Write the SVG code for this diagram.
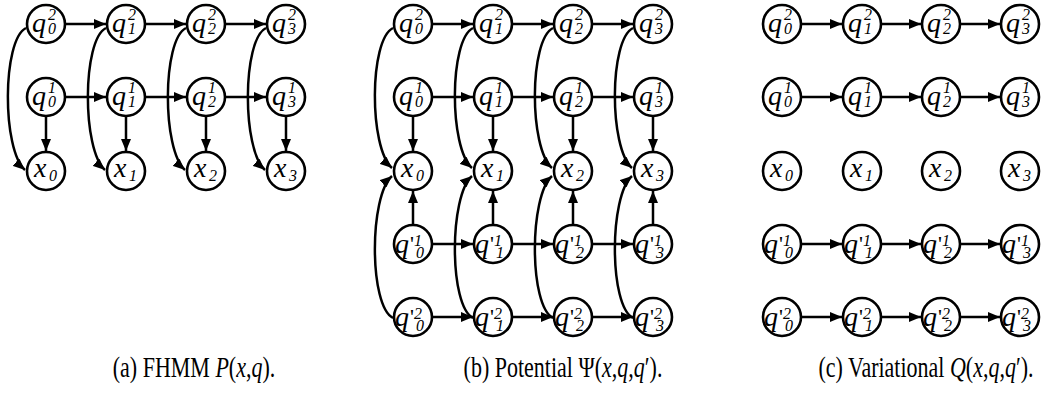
<svg xmlns="http://www.w3.org/2000/svg" width="1057" height="394" viewBox="0 0 1057 394">
<defs>
<style>
.n{fill:#fff;stroke:#000;stroke-width:2.6}
.e{fill:none;stroke:#000;stroke-width:2.5;marker-end:url(#ah)}
.m{font-family:"Liberation Serif",serif;font-style:italic;font-size:28px;fill:#000}
.s{font-size:16px}
.p{font-style:normal;font-size:22px}
.cap{font-family:"Liberation Serif",serif;font-size:22px;fill:#000}
.i{font-style:italic}
</style>
<marker id="ah" viewBox="0 0 12 10" refX="12" refY="5" markerWidth="12" markerHeight="10" markerUnits="userSpaceOnUse" orient="auto"><path d="M0,0L12,5L0,10z" fill="#000"/></marker>
</defs>

<g id="connectors">
<path class="e" d="M66,24H106"/><path class="e" d="M146,24H186"/><path class="e" d="M226,24H266"/>
<path class="e" d="M66,97H106"/><path class="e" d="M146,97H186"/><path class="e" d="M226,97H266"/>
<path class="e" d="M46,117V151"/><path class="e" d="M126,117V151"/><path class="e" d="M206,117V151"/><path class="e" d="M286,117V151"/>
<path class="e" d="M26,28C2,40 2,150 25,170"/>
<path class="e" d="M106,28C82,40 82,150 105,170"/>
<path class="e" d="M186,28C162,40 162,150 185,170"/>
<path class="e" d="M266,28C242,40 242,150 265,170"/>

<path class="e" d="M433,24H473"/><path class="e" d="M513,24H553"/><path class="e" d="M593,24H633"/>
<path class="e" d="M433,97H473"/><path class="e" d="M513,97H553"/><path class="e" d="M593,97H633"/>
<path class="e" d="M433,244H473"/><path class="e" d="M513,244H553"/><path class="e" d="M593,244H633"/>
<path class="e" d="M433,317H473"/><path class="e" d="M513,317H553"/><path class="e" d="M593,317H633"/>
<path class="e" d="M413,117V151"/><path class="e" d="M493,117V151"/><path class="e" d="M573,117V151"/><path class="e" d="M653,117V151"/>
<path class="e" d="M413,224V191"/><path class="e" d="M493,224V191"/><path class="e" d="M573,224V191"/><path class="e" d="M653,224V191"/>
<path class="e" d="M393,28C369,40 369,148 392,168"/>
<path class="e" d="M473,28C449,40 449,148 472,168"/>
<path class="e" d="M553,28C529,40 529,148 552,168"/>
<path class="e" d="M633,28C609,40 609,148 632,168"/>
<path class="e" d="M393,318C369,306 369,196 392,176"/>
<path class="e" d="M473,318C449,306 449,196 472,176"/>
<path class="e" d="M553,318C529,306 529,196 552,176"/>
<path class="e" d="M633,318C609,306 609,196 632,176"/>

<path class="e" d="M802,24H842"/><path class="e" d="M882,24H921"/><path class="e" d="M961,24H1000"/>
<path class="e" d="M802,97H842"/><path class="e" d="M882,97H921"/><path class="e" d="M961,97H1000"/>
<path class="e" d="M802,244H842"/><path class="e" d="M882,244H921"/><path class="e" d="M961,244H1000"/>
<path class="e" d="M802,317H842"/><path class="e" d="M882,317H921"/><path class="e" d="M961,317H1000"/>
</g>

<g id="a_q2_0"><circle class="n" cx="46" cy="24" r="19"/><text class="m" x="32" y="32">q<tspan class="s" x="48" y="20">2</tspan><tspan class="s" x="48" y="34">0</tspan></text></g>
<g id="a_q2_1"><circle class="n" cx="126" cy="24" r="19"/><text class="m" x="112" y="32">q<tspan class="s" x="128" y="20">2</tspan><tspan class="s" x="128" y="34">1</tspan></text></g>
<g id="a_q2_2"><circle class="n" cx="206" cy="24" r="19"/><text class="m" x="192" y="32">q<tspan class="s" x="208" y="20">2</tspan><tspan class="s" x="208" y="34">2</tspan></text></g>
<g id="a_q2_3"><circle class="n" cx="286" cy="24" r="19"/><text class="m" x="272" y="32">q<tspan class="s" x="288" y="20">2</tspan><tspan class="s" x="288" y="34">3</tspan></text></g>
<g id="a_q1_0"><circle class="n" cx="46" cy="97" r="19"/><text class="m" x="32" y="105">q<tspan class="s" x="48" y="93">1</tspan><tspan class="s" x="48" y="107">0</tspan></text></g>
<g id="a_q1_1"><circle class="n" cx="126" cy="97" r="19"/><text class="m" x="112" y="105">q<tspan class="s" x="128" y="93">1</tspan><tspan class="s" x="128" y="107">1</tspan></text></g>
<g id="a_q1_2"><circle class="n" cx="206" cy="97" r="19"/><text class="m" x="192" y="105">q<tspan class="s" x="208" y="93">1</tspan><tspan class="s" x="208" y="107">2</tspan></text></g>
<g id="a_q1_3"><circle class="n" cx="286" cy="97" r="19"/><text class="m" x="272" y="105">q<tspan class="s" x="288" y="93">1</tspan><tspan class="s" x="288" y="107">3</tspan></text></g>
<g id="a_x0"><circle class="n" cx="46" cy="171" r="19"/><text class="m" x="34" y="177">x<tspan class="s" x="49" y="181">0</tspan></text></g>
<g id="a_x1"><circle class="n" cx="126" cy="171" r="19"/><text class="m" x="114" y="177">x<tspan class="s" x="129" y="181">1</tspan></text></g>
<g id="a_x2"><circle class="n" cx="206" cy="171" r="19"/><text class="m" x="194" y="177">x<tspan class="s" x="209" y="181">2</tspan></text></g>
<g id="a_x3"><circle class="n" cx="286" cy="171" r="19"/><text class="m" x="274" y="177">x<tspan class="s" x="289" y="181">3</tspan></text></g>

<g id="b_q2_0"><circle class="n" cx="413" cy="24" r="19"/><text class="m" x="399" y="32">q<tspan class="s" x="415" y="20">2</tspan><tspan class="s" x="415" y="34">0</tspan></text></g>
<g id="b_q2_1"><circle class="n" cx="493" cy="24" r="19"/><text class="m" x="479" y="32">q<tspan class="s" x="495" y="20">2</tspan><tspan class="s" x="495" y="34">1</tspan></text></g>
<g id="b_q2_2"><circle class="n" cx="573" cy="24" r="19"/><text class="m" x="559" y="32">q<tspan class="s" x="575" y="20">2</tspan><tspan class="s" x="575" y="34">2</tspan></text></g>
<g id="b_q2_3"><circle class="n" cx="653" cy="24" r="19"/><text class="m" x="639" y="32">q<tspan class="s" x="655" y="20">2</tspan><tspan class="s" x="655" y="34">3</tspan></text></g>
<g id="b_q1_0"><circle class="n" cx="413" cy="97" r="19"/><text class="m" x="399" y="105">q<tspan class="s" x="415" y="93">1</tspan><tspan class="s" x="415" y="107">0</tspan></text></g>
<g id="b_q1_1"><circle class="n" cx="493" cy="97" r="19"/><text class="m" x="479" y="105">q<tspan class="s" x="495" y="93">1</tspan><tspan class="s" x="495" y="107">1</tspan></text></g>
<g id="b_q1_2"><circle class="n" cx="573" cy="97" r="19"/><text class="m" x="559" y="105">q<tspan class="s" x="575" y="93">1</tspan><tspan class="s" x="575" y="107">2</tspan></text></g>
<g id="b_q1_3"><circle class="n" cx="653" cy="97" r="19"/><text class="m" x="639" y="105">q<tspan class="s" x="655" y="93">1</tspan><tspan class="s" x="655" y="107">3</tspan></text></g>
<g id="b_x0"><circle class="n" cx="413" cy="171" r="19"/><text class="m" x="401" y="177">x<tspan class="s" x="416" y="181">0</tspan></text></g>
<g id="b_x1"><circle class="n" cx="493" cy="171" r="19"/><text class="m" x="481" y="177">x<tspan class="s" x="496" y="181">1</tspan></text></g>
<g id="b_x2"><circle class="n" cx="573" cy="171" r="19"/><text class="m" x="561" y="177">x<tspan class="s" x="576" y="181">2</tspan></text></g>
<g id="b_x3"><circle class="n" cx="653" cy="171" r="19"/><text class="m" x="641" y="177">x<tspan class="s" x="656" y="181">3</tspan></text></g>
<g id="b_qp1_0"><circle class="n" cx="413" cy="244" r="19"/><text class="m" x="395" y="253">q<tspan class="p" x="410" y="251">'</tspan><tspan class="s" x="414" y="246">1</tspan><tspan class="s" x="416" y="258">0</tspan></text></g>
<g id="b_qp1_1"><circle class="n" cx="493" cy="244" r="19"/><text class="m" x="475" y="253">q<tspan class="p" x="490" y="251">'</tspan><tspan class="s" x="494" y="246">1</tspan><tspan class="s" x="496" y="258">1</tspan></text></g>
<g id="b_qp1_2"><circle class="n" cx="573" cy="244" r="19"/><text class="m" x="555" y="253">q<tspan class="p" x="570" y="251">'</tspan><tspan class="s" x="574" y="246">1</tspan><tspan class="s" x="576" y="258">2</tspan></text></g>
<g id="b_qp1_3"><circle class="n" cx="653" cy="244" r="19"/><text class="m" x="635" y="253">q<tspan class="p" x="650" y="251">'</tspan><tspan class="s" x="654" y="246">1</tspan><tspan class="s" x="656" y="258">3</tspan></text></g>
<g id="b_qp2_0"><circle class="n" cx="413" cy="317" r="19"/><text class="m" x="395" y="326">q<tspan class="p" x="410" y="324">'</tspan><tspan class="s" x="414" y="319">2</tspan><tspan class="s" x="416" y="331">0</tspan></text></g>
<g id="b_qp2_1"><circle class="n" cx="493" cy="317" r="19"/><text class="m" x="475" y="326">q<tspan class="p" x="490" y="324">'</tspan><tspan class="s" x="494" y="319">2</tspan><tspan class="s" x="496" y="331">1</tspan></text></g>
<g id="b_qp2_2"><circle class="n" cx="573" cy="317" r="19"/><text class="m" x="555" y="326">q<tspan class="p" x="570" y="324">'</tspan><tspan class="s" x="574" y="319">2</tspan><tspan class="s" x="576" y="331">2</tspan></text></g>
<g id="b_qp2_3"><circle class="n" cx="653" cy="317" r="19"/><text class="m" x="635" y="326">q<tspan class="p" x="650" y="324">'</tspan><tspan class="s" x="654" y="319">2</tspan><tspan class="s" x="656" y="331">3</tspan></text></g>

<g id="c_q2_0"><circle class="n" cx="782" cy="24" r="19"/><text class="m" x="768" y="32">q<tspan class="s" x="784" y="20">2</tspan><tspan class="s" x="784" y="34">0</tspan></text></g>
<g id="c_q2_1"><circle class="n" cx="862" cy="24" r="19"/><text class="m" x="848" y="32">q<tspan class="s" x="864" y="20">2</tspan><tspan class="s" x="864" y="34">1</tspan></text></g>
<g id="c_q2_2"><circle class="n" cx="941" cy="24" r="19"/><text class="m" x="927" y="32">q<tspan class="s" x="943" y="20">2</tspan><tspan class="s" x="943" y="34">2</tspan></text></g>
<g id="c_q2_3"><circle class="n" cx="1020" cy="24" r="19"/><text class="m" x="1006" y="32">q<tspan class="s" x="1022" y="20">2</tspan><tspan class="s" x="1022" y="34">3</tspan></text></g>
<g id="c_q1_0"><circle class="n" cx="782" cy="97" r="19"/><text class="m" x="768" y="105">q<tspan class="s" x="784" y="93">1</tspan><tspan class="s" x="784" y="107">0</tspan></text></g>
<g id="c_q1_1"><circle class="n" cx="862" cy="97" r="19"/><text class="m" x="848" y="105">q<tspan class="s" x="864" y="93">1</tspan><tspan class="s" x="864" y="107">1</tspan></text></g>
<g id="c_q1_2"><circle class="n" cx="941" cy="97" r="19"/><text class="m" x="927" y="105">q<tspan class="s" x="943" y="93">1</tspan><tspan class="s" x="943" y="107">2</tspan></text></g>
<g id="c_q1_3"><circle class="n" cx="1020" cy="97" r="19"/><text class="m" x="1006" y="105">q<tspan class="s" x="1022" y="93">1</tspan><tspan class="s" x="1022" y="107">3</tspan></text></g>
<g id="c_x0"><circle class="n" cx="782" cy="171" r="19"/><text class="m" x="770" y="177">x<tspan class="s" x="785" y="181">0</tspan></text></g>
<g id="c_x1"><circle class="n" cx="862" cy="171" r="19"/><text class="m" x="850" y="177">x<tspan class="s" x="865" y="181">1</tspan></text></g>
<g id="c_x2"><circle class="n" cx="941" cy="171" r="19"/><text class="m" x="929" y="177">x<tspan class="s" x="944" y="181">2</tspan></text></g>
<g id="c_x3"><circle class="n" cx="1020" cy="171" r="19"/><text class="m" x="1008" y="177">x<tspan class="s" x="1023" y="181">3</tspan></text></g>
<g id="c_qp1_0"><circle class="n" cx="782" cy="244" r="19"/><text class="m" x="764" y="253">q<tspan class="p" x="779" y="251">'</tspan><tspan class="s" x="783" y="246">1</tspan><tspan class="s" x="785" y="258">0</tspan></text></g>
<g id="c_qp1_1"><circle class="n" cx="862" cy="244" r="19"/><text class="m" x="844" y="253">q<tspan class="p" x="859" y="251">'</tspan><tspan class="s" x="863" y="246">1</tspan><tspan class="s" x="865" y="258">1</tspan></text></g>
<g id="c_qp1_2"><circle class="n" cx="941" cy="244" r="19"/><text class="m" x="923" y="253">q<tspan class="p" x="938" y="251">'</tspan><tspan class="s" x="942" y="246">1</tspan><tspan class="s" x="944" y="258">2</tspan></text></g>
<g id="c_qp1_3"><circle class="n" cx="1020" cy="244" r="19"/><text class="m" x="1002" y="253">q<tspan class="p" x="1017" y="251">'</tspan><tspan class="s" x="1021" y="246">1</tspan><tspan class="s" x="1023" y="258">3</tspan></text></g>
<g id="c_qp2_0"><circle class="n" cx="782" cy="317" r="19"/><text class="m" x="764" y="326">q<tspan class="p" x="779" y="324">'</tspan><tspan class="s" x="783" y="319">2</tspan><tspan class="s" x="785" y="331">0</tspan></text></g>
<g id="c_qp2_1"><circle class="n" cx="862" cy="317" r="19"/><text class="m" x="844" y="326">q<tspan class="p" x="859" y="324">'</tspan><tspan class="s" x="863" y="319">2</tspan><tspan class="s" x="865" y="331">1</tspan></text></g>
<g id="c_qp2_2"><circle class="n" cx="941" cy="317" r="19"/><text class="m" x="923" y="326">q<tspan class="p" x="938" y="324">'</tspan><tspan class="s" x="942" y="319">2</tspan><tspan class="s" x="944" y="331">2</tspan></text></g>
<g id="c_qp2_3"><circle class="n" cx="1020" cy="317" r="19"/><text class="m" x="1002" y="326">q<tspan class="p" x="1017" y="324">'</tspan><tspan class="s" x="1021" y="319">2</tspan><tspan class="s" x="1023" y="331">3</tspan></text></g>

<g id="captions">
<text class="cap" transform="translate(194,377) scale(1,1.35)" text-anchor="middle">(a) FHMM <tspan class="i">P</tspan>(<tspan class="i">x</tspan>,<tspan class="i">q</tspan>).</text>
<text class="cap" transform="translate(563,377) scale(1,1.35)" text-anchor="middle">(b) Potential Ψ(<tspan class="i">x</tspan>,<tspan class="i">q</tspan>,<tspan class="i">q</tspan>′).</text>
<text class="cap" transform="translate(926,377) scale(1,1.35)" text-anchor="middle">(c) Variational <tspan class="i">Q</tspan>(<tspan class="i">x</tspan>,<tspan class="i">q</tspan>,<tspan class="i">q</tspan>′).</text>
</g>
</svg>
